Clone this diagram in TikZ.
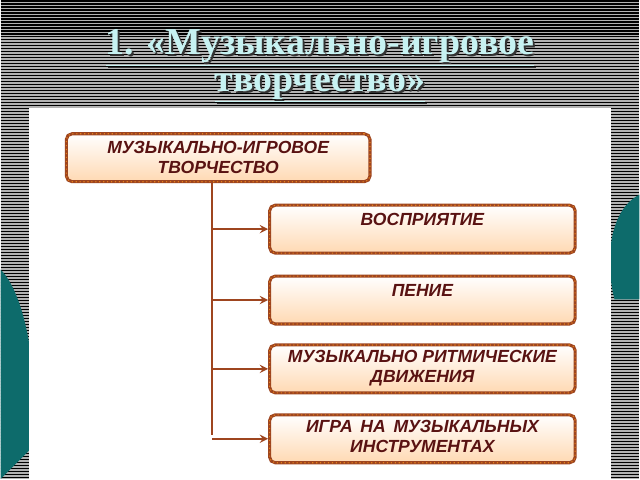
\documentclass[tikz,border=0pt]{standalone}
\usepackage{fontspec}
\setmainfont{Liberation Serif}
\newfontfamily\boxfont{Liberation Sans}
\usetikzlibrary{positioning}
\definecolor{boxbrown}{rgb}{0.62, 0.27, 0.12}
\definecolor{boxtext}{rgb}{0.35, 0.07, 0.07}
\definecolor{titlecyan}{rgb}{0.78, 0.95, 0.95}
\definecolor{wave}{rgb}{0.05, 0.42, 0.42}
\newcommand{\boxtype}{\boxfont\bfseries\itshape\fontsize{12.5}{14}\selectfont}
\tikzset{
    topic/.style={
        draw = boxbrown, line width = 2.2pt, rounded corners = 4pt,
        top color = white, bottom color = orange!30,
        minimum width = 7.65cm, minimum height = 1.2cm,
        align = center, text = boxtext, font = \boxtype,
        postaction = {draw = orange!60!brown, line width = 0.8pt, dotted}
    },
    label/.style = {text = boxtext, font = \boxtype, align = center, anchor = north},
    link/.style = {draw = boxbrown, line width = 1.6pt, -stealth}
}
\begin{document}
\begin{tikzpicture}[x=0.025cm, y=-0.025cm]

    % Striped background
    \fill[gray!60] (0,0) rectangle (640,480);
    \foreach \y in {1,4,...,480}
        \draw[black, line width=0.8pt] (0,\y) -- (640,\y);
    \useasboundingbox (0,0) rectangle (640,480);

    % Waves
    \fill[wave] (0,270) .. controls (30,300) and (40,400) .. (30,450) -- (0,480) -- cycle;
    \fill[wave] (640,195) .. controls (610,210) and (605,260) .. (615,300) -- (640,300) -- cycle;

    % White panel
    \fill[white] (28,108) rectangle (612,480);

    % Title
    \foreach \line/\ypos in {{1. «Музыкально-игровое}/48, {творчество»}/88} {
        \node[text=black!80, font=\bfseries\fontsize{27}{30}\selectfont] at (322,\ypos+2) {\underline{\line}};
        \node[text=titlecyan, font=\bfseries\fontsize{27}{30}\selectfont] at (320,\ypos) {\underline{\line}};
    }

    % Boxes
    \node[topic, minimum width=7.6cm] (main) at (218,158) {МУЗЫКАЛЬНО-ИГРОВОЕ\\ТВОРЧЕСТВО};
    \node[topic, anchor=north west] (perc) at (268,204) {};
    \node[topic, anchor=north west] (sing) at (268,275) {};
    \node[topic, anchor=north west] (move) at (268,344) {};
    \node[topic, anchor=north west] (play) at (268,414) {};

    % Labels
    \node[label] at ([yshift=-0.12cm]perc.north) {ВОСПРИЯТИЕ};
    \node[label] at ([yshift=-0.12cm]sing.north) {ПЕНИЕ};
    \node[label] at ([yshift=-0.05cm]move.north) {МУЗЫКАЛЬНО РИТМИЧЕСКИЕ\\ДВИЖЕНИЯ};
    \node[label] at ([yshift=-0.05cm]play.north) {ИГРА \,НА \,МУЗЫКАЛЬНЫХ\\ИНСТРУМЕНТАХ};

    % Connectors
    \coordinate (trunk) at (212,182);
    \draw[draw=boxbrown, line width=1.6pt] (trunk) -- (212,436);
    \foreach \b in {perc, sing, move, play}
        \draw[link] (trunk |- \b.west) -- (\b.west);

\end{tikzpicture}
\end{document}
